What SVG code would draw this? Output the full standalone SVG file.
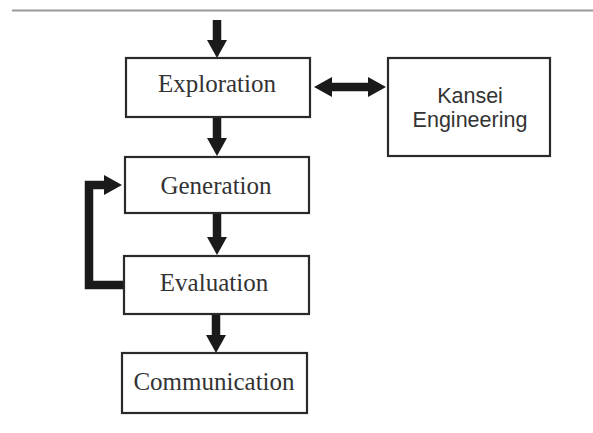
<svg xmlns="http://www.w3.org/2000/svg" width="593" height="433" viewBox="0 0 593 433">
<defs>
<style>
.box{fill:#fff;stroke:#2a2a2a;stroke-width:2.2}
.t{font-family:"Liberation Serif","Times New Roman",serif;font-size:25px;fill:#333;text-anchor:middle}
.s{font-family:"Liberation Sans",Arial,sans-serif;font-size:21.5px;fill:#333;text-anchor:middle}
.c{fill:none;stroke:#1a1a1a;stroke-width:8.5;stroke-linejoin:miter}
</style>
<marker id="ah" viewBox="0 0 18 20" refX="0" refY="10" markerWidth="18" markerHeight="20" markerUnits="userSpaceOnUse" orient="auto-start-reverse">
<path d="M0,0 L18,10 L0,20 Z" fill="#1a1a1a"/>
</marker>
</defs>
<rect width="593" height="433" fill="#fff"/>
<line x1="12" y1="10.5" x2="593" y2="10.5" stroke="#999" stroke-width="2"/>
<g id="connectors">
<line class="c" x1="217" y1="20" x2="217" y2="40" marker-end="url(#ah)"/>
<line class="c" x1="217" y1="117" x2="217" y2="138" marker-end="url(#ah)"/>
<line class="c" x1="217" y1="213" x2="217" y2="237" marker-end="url(#ah)"/>
<line class="c" x1="216" y1="314" x2="216" y2="335" marker-end="url(#ah)"/>
<line class="c" x1="332" y1="87" x2="368" y2="87" marker-start="url(#ah)" marker-end="url(#ah)"/>
<polyline class="c" points="124,285 89,285 89,185 104,185" marker-end="url(#ah)"/>
</g>
<g id="exploration">
<rect class="box" x="126" y="58" width="184" height="59"/>
<text class="t" x="217" y="92">Exploration</text>
</g>
<g id="kansei">
<rect class="box" x="388" y="58" width="162" height="98"/>
<text class="s" x="470" y="103">Kansei</text>
<text class="s" x="470" y="127">Engineering</text>
</g>
<g id="generation">
<rect class="box" x="125" y="157" width="184" height="56"/>
<text class="t" x="216" y="194">Generation</text>
</g>
<g id="evaluation">
<rect class="box" x="124" y="256" width="185" height="58"/>
<text class="t" x="214" y="291">Evaluation</text>
</g>
<g id="communication">
<rect class="box" x="122" y="353" width="185" height="60"/>
<text class="t" x="214" y="390">Communication</text>
</g>
</svg>
